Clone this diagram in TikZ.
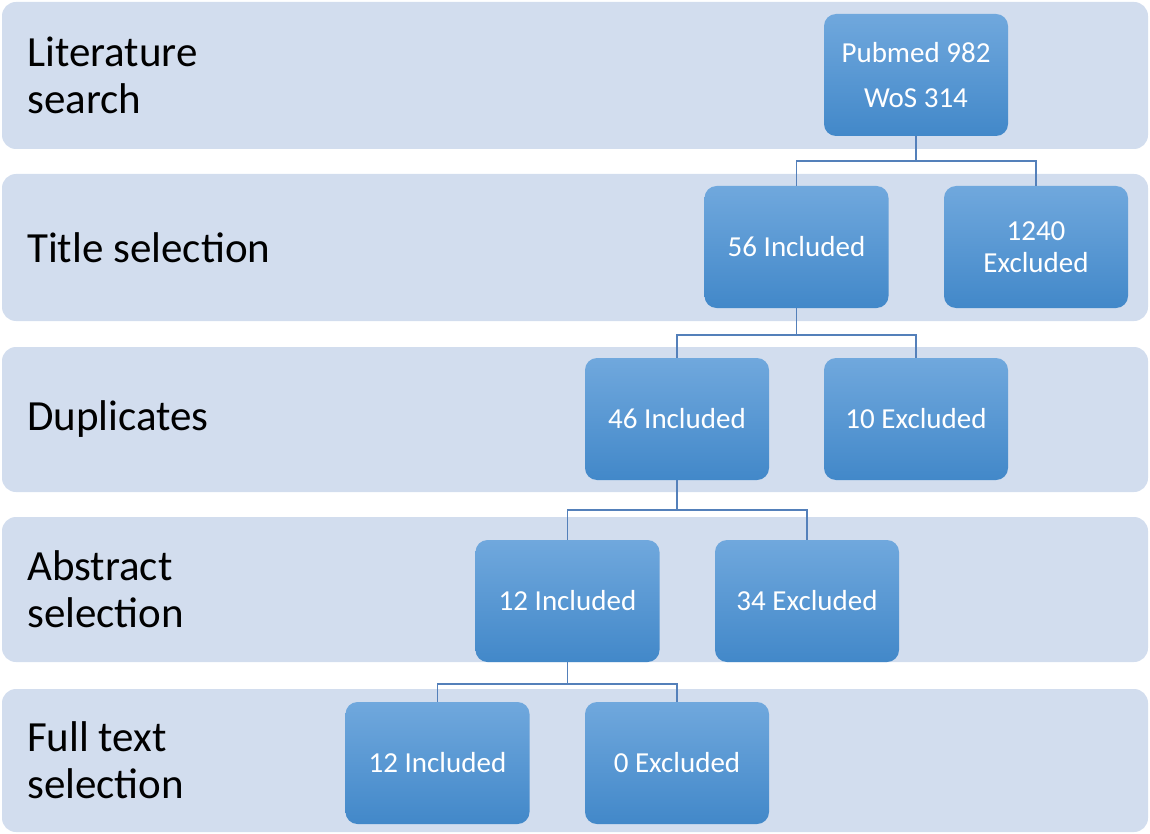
\documentclass[tikz,border=0pt]{standalone}
\usepackage{fontspec}
\setmainfont{Carlito}
\definecolor{bandfill}{RGB}{210,221,238}
\definecolor{boxtop}{RGB}{112,168,221}
\definecolor{boxbot}{RGB}{66,136,201}
\definecolor{connc}{RGB}{84,128,186}
\tikzset{
  band/.style={fill=bandfill, rounded corners=14pt},
  bandlabel/.style={anchor=west, align=left, text=black, inner sep=0pt,
    font=\fontsize{43}{47}\selectfont},
  flowbox/.style={rounded corners=12pt, top color=boxtop, bottom color=boxbot,
    draw=none, minimum width=184pt, minimum height=122pt, text=white,
    align=center, inner sep=0pt, font=\fontsize{29}{32}\selectfont},
  conn/.style={draw=connc, line width=1.6pt}
}
\begin{document}
\begin{tikzpicture}[x=1pt,y=-1pt]
\useasboundingbox (0,0) rectangle (1150,834);
% bands
\fill[band] (2,2) rectangle (1148,149);
\fill[band] (2,174) rectangle (1148,321);
\fill[band] (2,347) rectangle (1148,492);
\fill[band] (2,517) rectangle (1148,662);
\fill[band] (2,689) rectangle (1148,832);
% band labels
\node[bandlabel] (l1) at (27,75.5) {Literature\\search};
\node[bandlabel] (l2) at (27,247.5) {Title selection};
\node[bandlabel] (l3) at (27,419.5) {Duplicates};
\node[bandlabel] (l4) at (27,589.5) {Abstract\\selection};
\node[bandlabel] (l5) at (27,760.5) {Full text\\selection};
% boxes
\node[flowbox] (top) at (916,75) {Pubmed 982\\[13pt]WoS 314};
\node[flowbox] (inc1) at (796.5,247) {56 Included};
\node[flowbox] (exc1) at (1036,247) {1240\\Excluded};
\node[flowbox] (inc2) at (677,419) {46 Included};
\node[flowbox] (exc2) at (916,419) {10 Excluded};
\node[flowbox] (inc3) at (567.5,601) {12 Included};
\node[flowbox] (exc3) at (807,601) {34 Excluded};
\node[flowbox] (inc4) at (437.5,763) {12 Included};
\node[flowbox] (exc4) at (677,763) {0 Excluded};
% junction points
\coordinate (j1) at (916,161);
\coordinate (j2) at (796.5,335);
\coordinate (j3) at (677,510);
\coordinate (j4) at (567.5,684);
% connectors
\draw[conn] (top.south) -- (j1);
\draw[conn] (j1) -| (inc1.north);
\draw[conn] (j1) -| (exc1.north);
\draw[conn] (inc1.south) -- (j2);
\draw[conn] (j2) -| (inc2.north);
\draw[conn] (j2) -| (exc2.north);
\draw[conn] (inc2.south) -- (j3);
\draw[conn] (j3) -| (inc3.north);
\draw[conn] (j3) -| (exc3.north);
\draw[conn] (inc3.south) -- (j4);
\draw[conn] (j4) -| (inc4.north);
\draw[conn] (j4) -| (exc4.north);
\end{tikzpicture}
\end{document}
